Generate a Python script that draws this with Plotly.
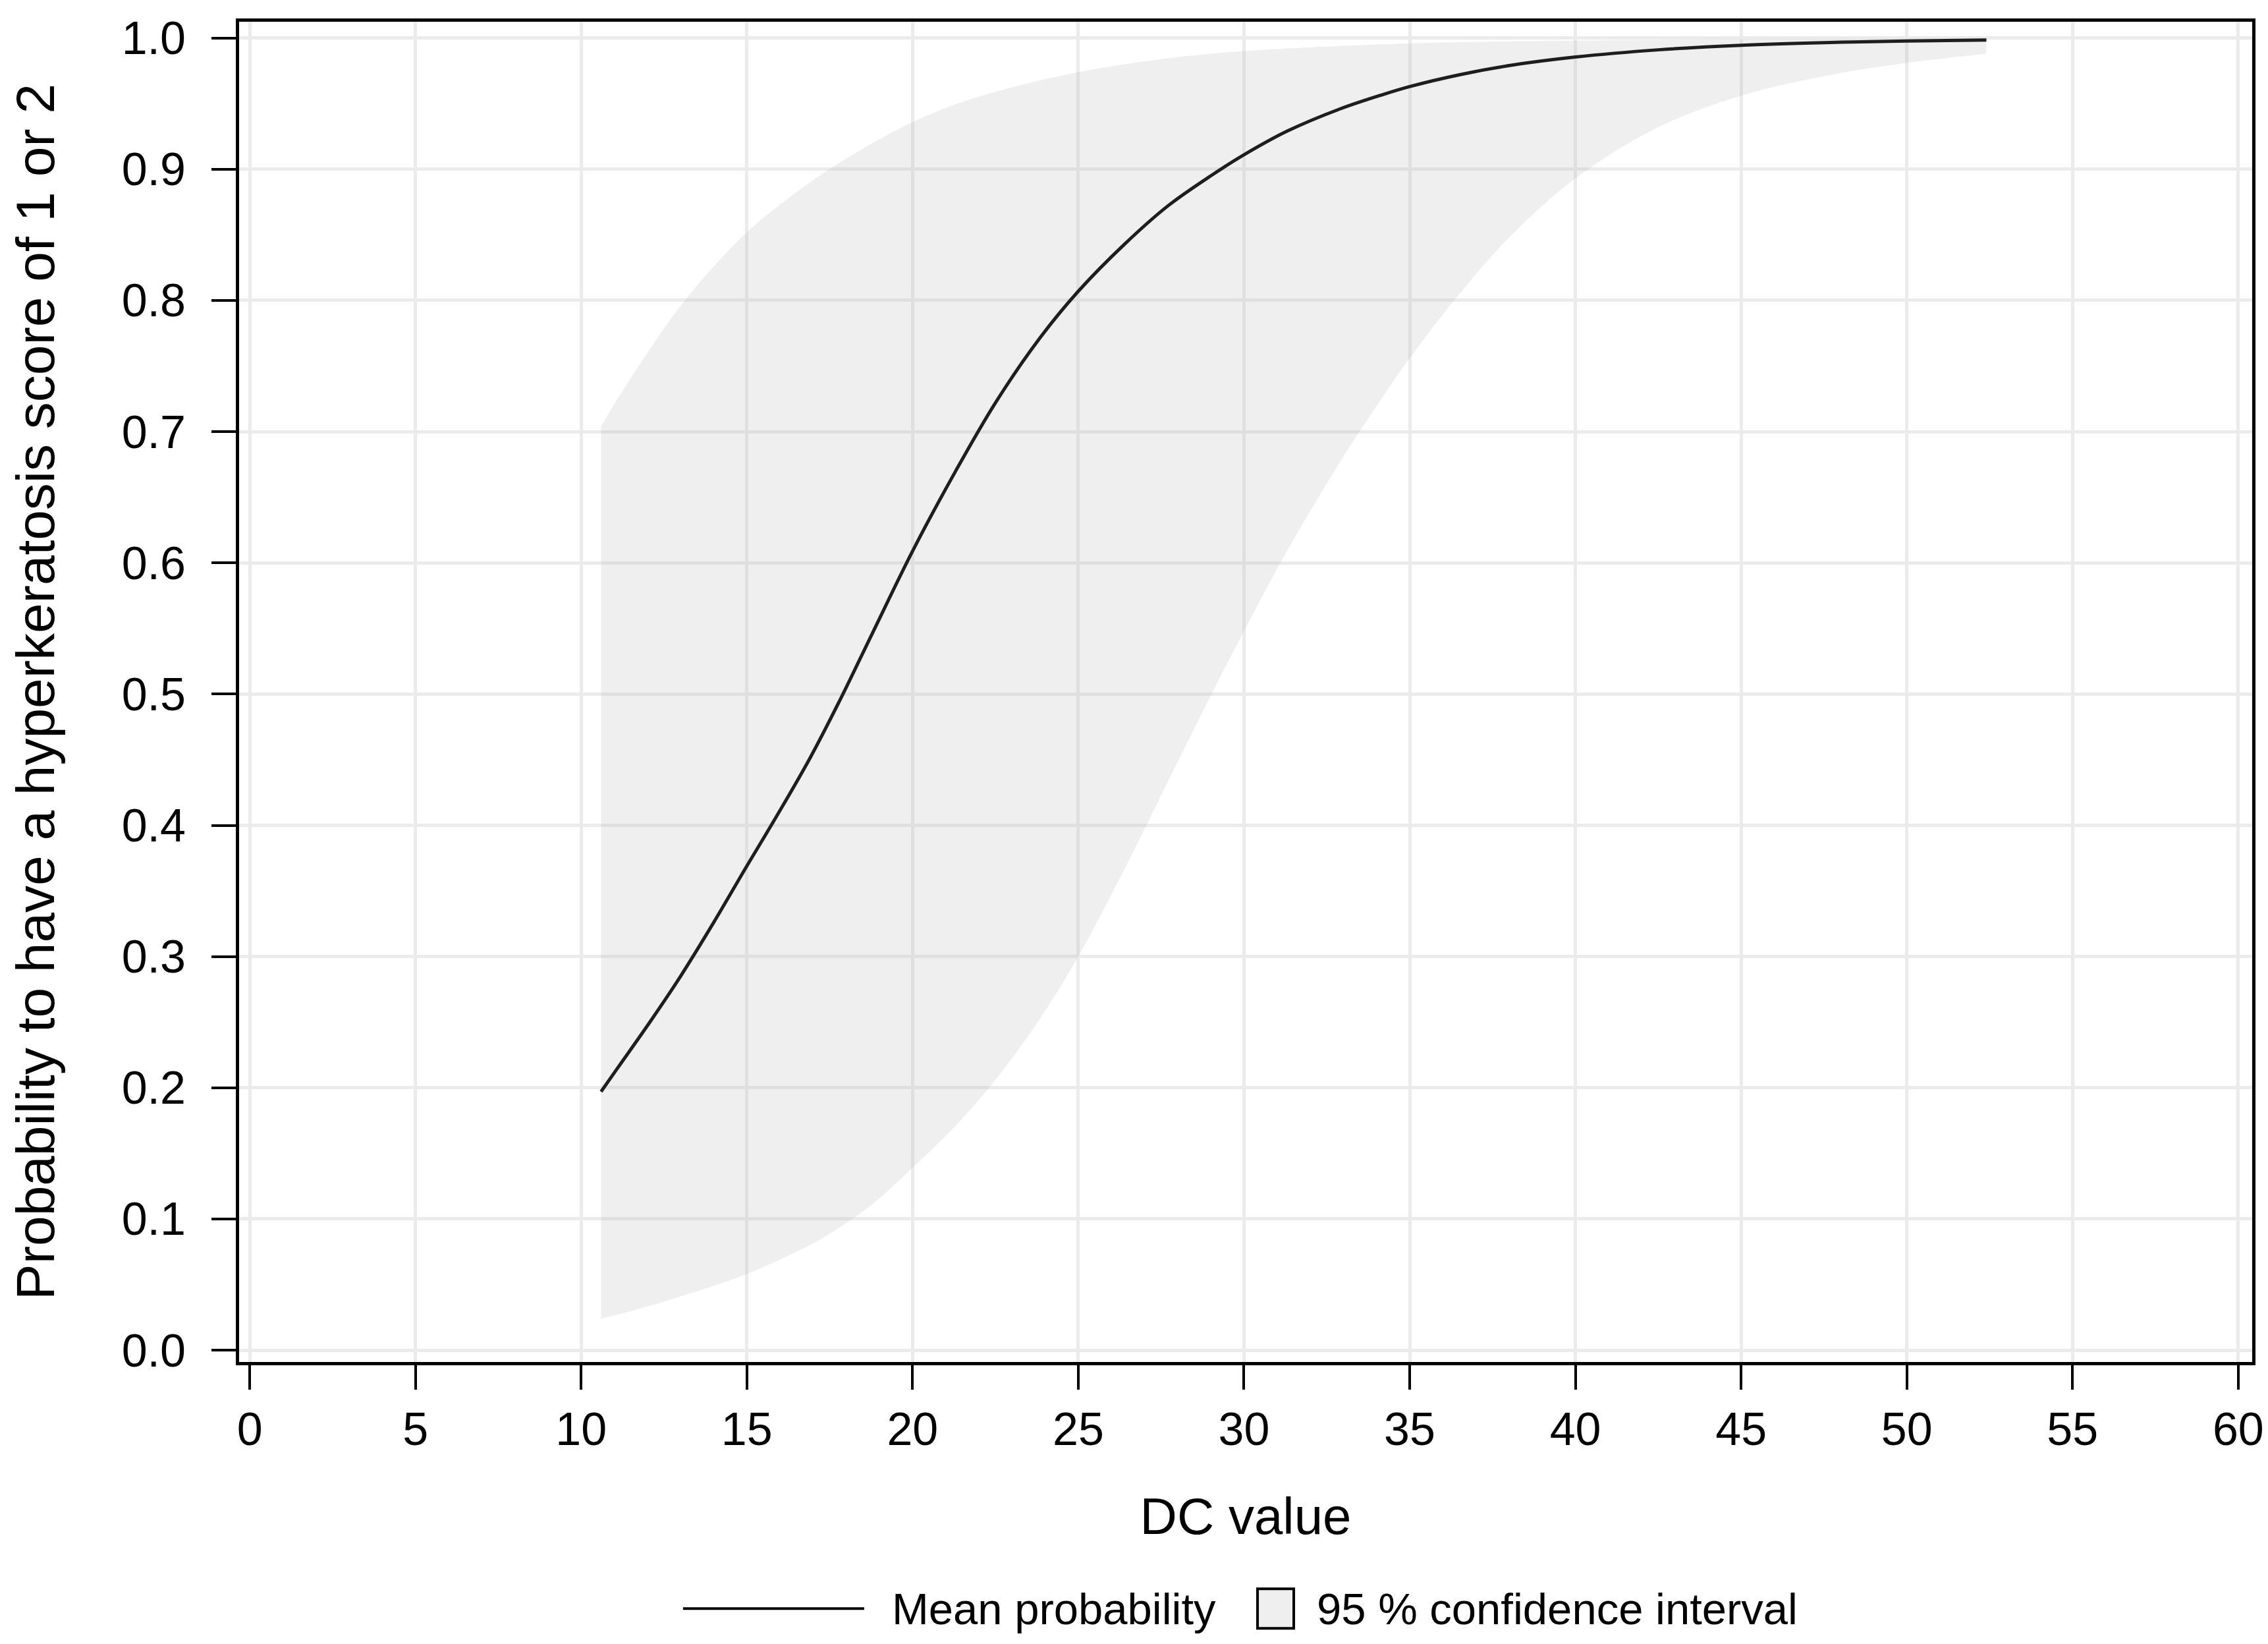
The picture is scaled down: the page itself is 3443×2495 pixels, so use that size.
import plotly.graph_objects as go

# ---------------------------------------------------------
# data
# ---------------------------------------------------------
dc_value = [10.6, 11.1, 12.1, 13.0, 14.0, 15.0, 15.9, 16.9, 17.8, 18.8,
            20.0, 21.3, 22.5, 23.8, 25.0, 26.4, 27.7, 29.0, 30.0, 31.3,
            32.9, 34.2, 35.0, 36.5, 38.0, 40.0, 42.5, 45.0, 47.5, 50.0, 52.4]
mean_prob = [0.197, 0.215, 0.251, 0.285, 0.326, 0.369, 0.407, 0.451, 0.495, 0.547,
             0.609, 0.670, 0.722, 0.770, 0.807, 0.843, 0.872, 0.895, 0.911, 0.929,
             0.946, 0.957, 0.963, 0.972, 0.979, 0.9855, 0.991, 0.9945, 0.9965, 0.9977, 0.9985]
ci_lower = [0.024, 0.027, 0.034, 0.041, 0.049, 0.058, 0.068, 0.080, 0.0935, 0.1115,
            0.139, 0.171, 0.206, 0.251, 0.300, 0.367, 0.433, 0.499, 0.548, 0.609,
            0.677, 0.727, 0.756, 0.805, 0.848, 0.893, 0.932, 0.956, 0.971, 0.981, 0.988]
ci_upper = [0.704, 0.725, 0.764, 0.796, 0.826, 0.852, 0.871, 0.890, 0.905, 0.920,
            0.936, 0.9495, 0.959, 0.9675, 0.974, 0.980, 0.9845, 0.988, 0.990, 0.992,
            0.994, 0.9952, 0.996, 0.9968, 0.9975, 0.998, 0.9986, 0.999, 0.9993, 0.9995, 0.9996]

x_ticks = list(range(0, 61, 5))
y_ticks = [0.0, 0.1, 0.2, 0.3, 0.4, 0.5, 0.6, 0.7, 0.8, 0.9, 1.0]

FONT = "Liberation Sans, Arial, sans-serif"
BAND = "rgba(175,175,175,0.2)"

fig = go.Figure()

# confidence band: lower edge, then upper edge filled down to it
fig.add_trace(go.Scatter(
    x=dc_value, y=ci_lower, mode="lines", line=dict(width=0, shape="spline", smoothing=1),
    showlegend=False, hoverinfo="skip",
))
fig.add_trace(go.Scatter(
    x=dc_value, y=ci_upper, mode="lines", line=dict(width=0, shape="spline", smoothing=1),
    fill="tonexty", fillcolor=BAND, showlegend=False, name="95 % confidence interval",
))
# mean curve
fig.add_trace(go.Scatter(
    x=dc_value, y=mean_prob, mode="lines",
    line=dict(color="#1e1e1e", width=5, shape="spline", smoothing=1),
    showlegend=False, name="Mean probability",
))

axis_common = dict(
    showline=True, linecolor="black", linewidth=5, mirror=True,
    showgrid=True, gridcolor="#ebebeb", gridwidth=5,
    ticks="outside", ticklen=37, tickwidth=4, tickcolor="black",
    zeroline=False, automargin=False,
    tickfont=dict(family=FONT, size=70, color="black"),
)

fig.update_xaxes(
    axis_common, range=[-0.32, 60.42], tickvals=x_ticks,
    ticktext=[str(v) for v in x_ticks], ticklabelstandoff=0,
    title=dict(text="DC value", font=dict(family=FONT, size=78, color="black"), standoff=68),
)
fig.update_yaxes(
    axis_common, range=[-0.009, 1.0124], tickvals=y_ticks,
    ticktext=[f"{v:.1f}" for v in y_ticks], ticklabelstandoff=25,
    title=dict(text="Probability to have a hyperkeratosis score of 1 or 2",
               font=dict(family=FONT, size=82, color="black"), standoff=112),
)

# legend drawn by hand so the line sample is as long as in the original
leg_y = -0.184
fig.add_shape(type="line", xref="paper", yref="paper",
              x0=0.2205, x1=0.3105, y0=leg_y, y1=leg_y,
              line=dict(color="black", width=4))
fig.add_shape(type="rect", xref="paper", yref="paper",
              x0=0.5059, x1=0.5239, y0=leg_y - 0.0148, y1=leg_y + 0.0148,
              fillcolor="#efefef", line=dict(color="black", width=4))
fig.add_annotation(x=0.3235, y=leg_y, xref="paper", yref="paper",
                   text="Mean probability", showarrow=False,
                   xanchor="left", yanchor="middle",
                   font=dict(family=FONT, size=67, color="black"))
fig.add_annotation(x=0.5347, y=leg_y, xref="paper", yref="paper",
                   text="95 % confidence interval", showarrow=False,
                   xanchor="left", yanchor="middle",
                   font=dict(family=FONT, size=67, color="black"))

fig.update_layout(
    width=3443, height=2495,
    margin=dict(l=355, r=32, t=25, b=436),
    plot_bgcolor="white", paper_bgcolor="white",
    showlegend=False,
)

fig.write_html("out.html")
